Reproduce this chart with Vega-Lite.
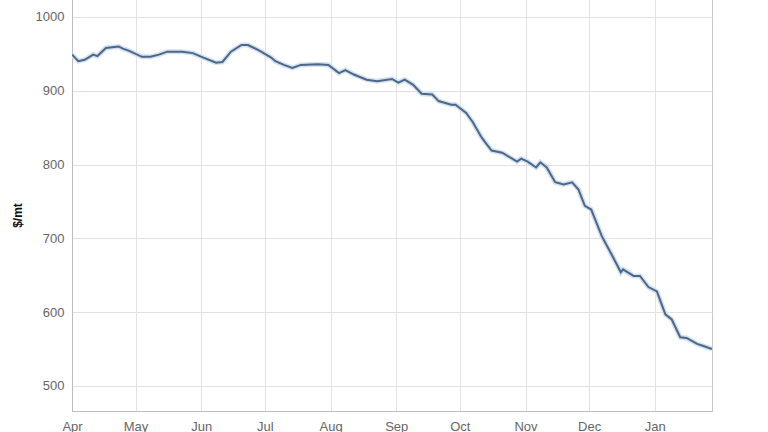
{
  "$schema": "https://vega.github.io/schema/vega-lite/v6.json",
  "width": 640,
  "height": 413,
  "autosize": "none",
  "padding": {"left": 72, "top": -2, "right": 56, "bottom": 21},
  "background": "white",
  "config": {
    "font": "Liberation Sans",
    "view": {"stroke": "#c8c8c8", "strokeWidth": 1},
    "axis": {
      "labelColor": "#666666",
      "labelFontSize": 13,
      "gridColor": "#e2e2e2",
      "domainColor": "#bdbdbd",
      "ticks": false
    }
  },
  "data": {
    "values": [
      {"date": "2014-04-01", "price": 949},
      {"date": "2014-04-04", "price": 940},
      {"date": "2014-04-07", "price": 942},
      {"date": "2014-04-11", "price": 949},
      {"date": "2014-04-13", "price": 947},
      {"date": "2014-04-17", "price": 958},
      {"date": "2014-04-23", "price": 960},
      {"date": "2014-04-25", "price": 957},
      {"date": "2014-04-28", "price": 954},
      {"date": "2014-05-04", "price": 946},
      {"date": "2014-05-08", "price": 946},
      {"date": "2014-05-12", "price": 949},
      {"date": "2014-05-16", "price": 953},
      {"date": "2014-05-23", "price": 953},
      {"date": "2014-05-28", "price": 951},
      {"date": "2014-06-02", "price": 945},
      {"date": "2014-06-08", "price": 938},
      {"date": "2014-06-11", "price": 939},
      {"date": "2014-06-15", "price": 953},
      {"date": "2014-06-20", "price": 962},
      {"date": "2014-06-23", "price": 962},
      {"date": "2014-06-28", "price": 955},
      {"date": "2014-07-04", "price": 945},
      {"date": "2014-07-06", "price": 940},
      {"date": "2014-07-10", "price": 935},
      {"date": "2014-07-14", "price": 931},
      {"date": "2014-07-18", "price": 935},
      {"date": "2014-07-26", "price": 936},
      {"date": "2014-07-31", "price": 935},
      {"date": "2014-08-05", "price": 924},
      {"date": "2014-08-08", "price": 928},
      {"date": "2014-08-12", "price": 922},
      {"date": "2014-08-18", "price": 915},
      {"date": "2014-08-23", "price": 913},
      {"date": "2014-08-30", "price": 916},
      {"date": "2014-09-02", "price": 911},
      {"date": "2014-09-05", "price": 915},
      {"date": "2014-09-09", "price": 908},
      {"date": "2014-09-13", "price": 896},
      {"date": "2014-09-18", "price": 895},
      {"date": "2014-09-21", "price": 886},
      {"date": "2014-09-27", "price": 881},
      {"date": "2014-09-29", "price": 881},
      {"date": "2014-10-04", "price": 870},
      {"date": "2014-10-07", "price": 858},
      {"date": "2014-10-11", "price": 838},
      {"date": "2014-10-13", "price": 830},
      {"date": "2014-10-16", "price": 819},
      {"date": "2014-10-21", "price": 816},
      {"date": "2014-10-28", "price": 804},
      {"date": "2014-10-30", "price": 808},
      {"date": "2014-11-02", "price": 804},
      {"date": "2014-11-06", "price": 796},
      {"date": "2014-11-08", "price": 803},
      {"date": "2014-11-11", "price": 796},
      {"date": "2014-11-15", "price": 776},
      {"date": "2014-11-19", "price": 773},
      {"date": "2014-11-23", "price": 776},
      {"date": "2014-11-26", "price": 766},
      {"date": "2014-11-29", "price": 744},
      {"date": "2014-12-02", "price": 739},
      {"date": "2014-12-07", "price": 703},
      {"date": "2014-12-12", "price": 676},
      {"date": "2014-12-16", "price": 654},
      {"date": "2014-12-17", "price": 658},
      {"date": "2014-12-22", "price": 649},
      {"date": "2014-12-25", "price": 649},
      {"date": "2014-12-29", "price": 634},
      {"date": "2015-01-02", "price": 628},
      {"date": "2015-01-06", "price": 597},
      {"date": "2015-01-09", "price": 590},
      {"date": "2015-01-13", "price": 566},
      {"date": "2015-01-16", "price": 565},
      {"date": "2015-01-21", "price": 557},
      {"date": "2015-01-24", "price": 554},
      {"date": "2015-01-28", "price": 550}
    ]
  },
  "encoding": {
    "x": {
      "field": "date",
      "type": "temporal",
      "scale": {"domain": ["2014-04-01", "2015-01-28"], "nice": false},
      "axis": {
        "title": null,
        "format": "%b",
        "tickCount": {"interval": "month", "step": 1},
        "labelPadding": 9,
        "labelFlush": false
      }
    },
    "y": {
      "field": "price",
      "type": "quantitative",
      "scale": {"domain": [466, 1025.7], "nice": false, "zero": false},
      "axis": {
        "title": "$/mt",
        "titleFontSize": 12,
        "titleFontWeight": "bold",
        "titleColor": "#111111",
        "titleAngle": -90,
        "titleX": -48,
        "titleY": 217,
        "titleBaseline": "bottom",
        "titleAlign": "center",
        "values": [500, 600, 700, 800, 900, 1000],
        "format": "d",
        "labelPadding": 8
      }
    }
  },
  "layer": [
    {
      "mark": {"type": "line", "color": "#d3e1f0", "strokeWidth": 5, "clip": true}
    },
    {
      "mark": {"type": "line", "color": "#4c6788", "strokeWidth": 2, "clip": true}
    }
  ]
}
